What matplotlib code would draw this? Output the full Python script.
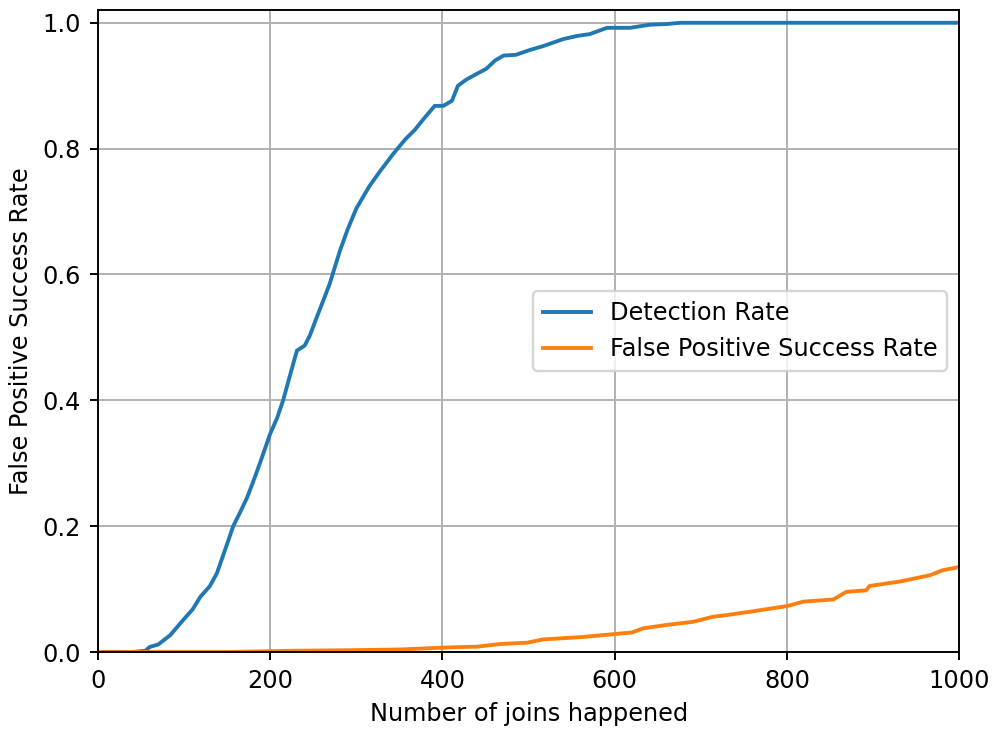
import matplotlib
matplotlib.use("Agg")
import matplotlib.pyplot as plt

# cumulative detection rate vs number of joins
det_joins = [0, 40, 55, 60, 70, 84, 99, 110, 119, 130, 138, 150, 157, 165, 173,
             180, 188, 200, 208, 215, 223, 231, 240, 246, 254, 262, 269, 281,
             290, 300, 315, 328, 343, 357, 368, 378, 391, 401, 411, 418, 428,
             436, 451, 461, 471, 485, 502, 517, 540, 556, 571, 591, 618, 641,
             660, 676, 720, 1000]
det_rate = [0.0, 0.0, 0.002, 0.008, 0.012, 0.027, 0.051, 0.068, 0.088, 0.105,
            0.125, 0.172, 0.2, 0.222, 0.245, 0.27, 0.3, 0.347, 0.372, 0.4,
            0.44, 0.479, 0.487, 0.503, 0.532, 0.56, 0.585, 0.638, 0.672, 0.705,
            0.74, 0.765, 0.792, 0.815, 0.83, 0.847, 0.868, 0.868, 0.876, 0.9,
            0.91, 0.916, 0.927, 0.94, 0.948, 0.949, 0.957, 0.963, 0.974,
            0.979, 0.982, 0.992, 0.992, 0.997, 0.998, 1.0, 1.0, 1.0]

# false positive success rate
fp_joins = [0, 150, 226, 300, 350, 409, 440, 467, 498, 517, 564, 600, 620, 633,
            660, 691, 714, 730, 757, 800, 819, 854, 869, 892, 896, 931, 966,
            981, 1000]
fp_rate = [0.0, 0.0, 0.002, 0.003, 0.004, 0.0074, 0.0085, 0.0127, 0.0148, 0.02,
           0.024, 0.0286, 0.031, 0.0376, 0.043, 0.048, 0.056, 0.0587, 0.064,
           0.073, 0.08, 0.0836, 0.0957, 0.098, 0.105, 0.112, 0.122, 0.13,
           0.135]

dpi = 173
fig = plt.figure(figsize=(996 / dpi, 729 / dpi), dpi=dpi)
ax = fig.add_subplot(111)
fig.subplots_adjust(left=0.0984, right=0.963, top=0.986, bottom=0.1056)

ax.plot(det_joins, det_rate, color="#1f77b4", lw=1.6, label="Detection Rate")
ax.plot(fp_joins, fp_rate, color="#ff7f0e", lw=1.6, label="False Positive Success Rate")

ax.set_xlim(0, 1000)
ax.set_ylim(0, 1.02)
ax.set_xlabel("Number of joins happened")
ax.set_ylabel("False Positive Success Rate")
ax.grid(True)
ax.legend(loc="center right")

fig.savefig("out.png", dpi=dpi)
